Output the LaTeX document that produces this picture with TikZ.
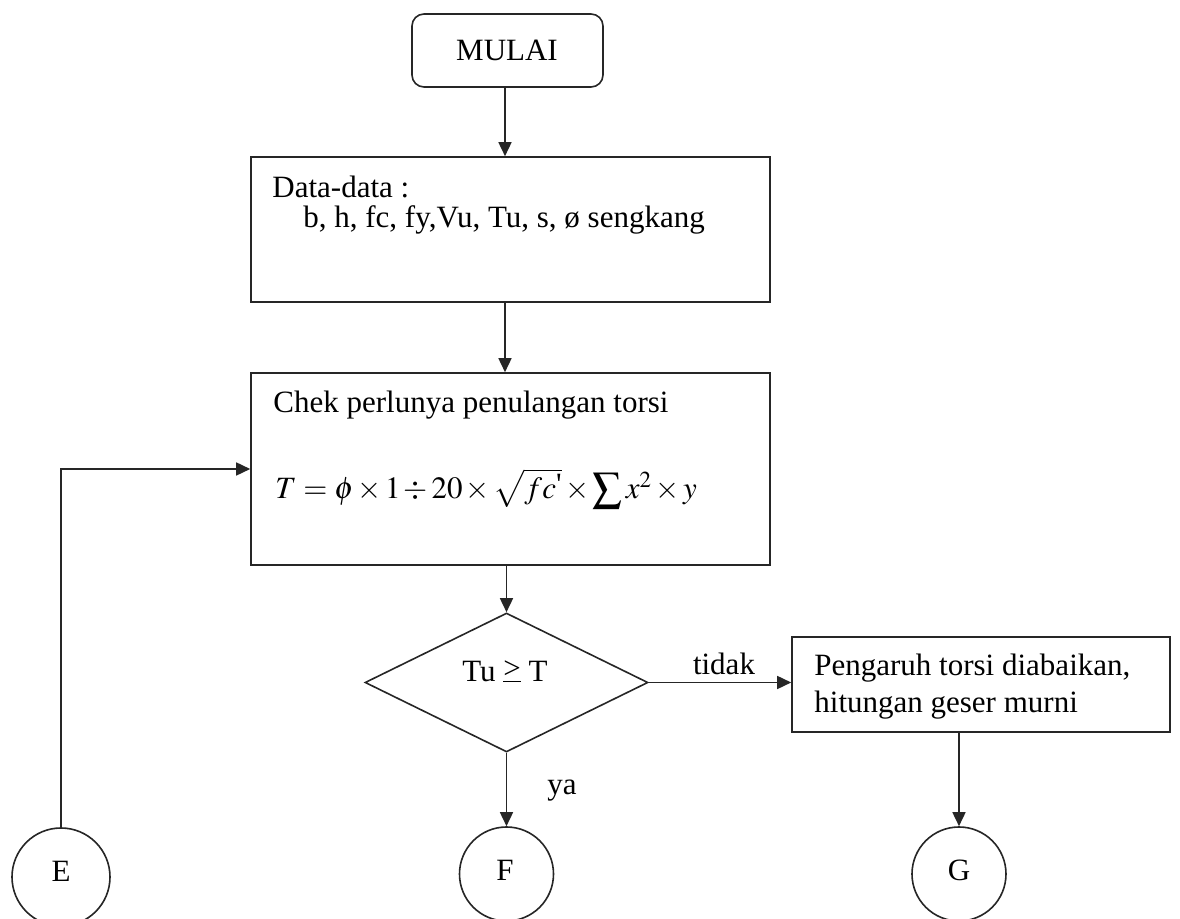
\documentclass[tikz,border=0pt]{standalone}
\usepackage{mathptmx}
\usepackage{fontspec}
\setmainfont{Liberation Serif}
\usetikzlibrary{shapes.geometric,arrows.meta}
\newcommand{\ugeq}{{\setbox0\hbox{>}\rlap{\rule[-0.2pt]{\wd0}{0.55pt}}\raisebox{1.6pt}{>}}}
\newcommand{\bigsumm}{\mathop{\vcenter{\hbox{\scalebox{1.35}{$\sum$}}}}}
\tikzset{
  ln/.style={line width=0.8pt, draw=black!85},
  arr/.style={ln, -{Triangle[length=7pt,width=6.5pt]}},
  boxnode/.style={ln, rectangle, inner sep=0pt},
  txt/.style={inner sep=0pt, font=\fontsize{15.5}{18}\selectfont},
  circnode/.style={ln, circle, inner sep=0pt, minimum size=48pt},
}
\begin{document}
\begin{tikzpicture}[x=0.5pt,y=-0.5pt]
\clip (0,0) rectangle (1180,919);
\useasboundingbox (0,0) rectangle (1180,919);
\fill[white] (0,0) rectangle (1180,919);
% nodes
\node[boxnode, rounded corners=6pt, minimum width=95.5pt, minimum height=36.5pt] (mulai) at (507.5,50.5) {};
\node[txt, anchor=center] (mulaiT) at (507,50) {MULAI};
\node[boxnode, minimum width=259.5pt, minimum height=72.5pt] (data) at (510.5,229.5) {};
\node[txt, anchor=base west] (dataT1) at (272,198) {Data-data :};
\node[txt, anchor=base west] (dataT2) at (303,228) {b, h, fc, fy,Vu, Tu, s, ø sengkang};
\node[boxnode, minimum width=259.5pt, minimum height=96pt] (check) at (510.5,469) {};
\node[txt, anchor=base west] (checkT1) at (273,413) {Chek perlunya penulangan torsi};
\node[txt, anchor=base west] (checkT2) at (275,499) {\thickmuskip=4mu\medmuskip=2mu$T=\phi\times 1\div 20\times\sqrt{fc\raisebox{2pt}{\textquotesingle}}\times\bigsumm x^{2}\times y$};
\node[ln, diamond, inner sep=0pt, minimum width=141.5pt, minimum height=69.5pt] (dia) at (506.5,682.5) {};
\node[txt, anchor=base] (diaT) at (505,682) {Tu \ugeq{} T};
\node[boxnode, minimum width=189pt, minimum height=47.5pt] (peng) at (981,684.5) {};
\node[txt, anchor=base west] (pengT1) at (814,676) {Pengaruh torsi diabaikan,};
\node[txt, anchor=base west] (pengT2) at (814,713) {hitungan geser murni};
\node[circnode, minimum size=49pt] (E) at (61,877) {};
\node[txt] (ET) at (61,871) {E};
\node[circnode, minimum size=47pt] (F) at (506.5,874) {};
\node[txt] (FT) at (505,870) {F};
\node[circnode, minimum size=47pt] (G) at (959,874) {};
\node[txt] (GT) at (959,870) {G};
\node[txt, anchor=base] (tidak) at (724,675) {tidak};
\node[txt, anchor=base] (ya) at (562,795) {ya};
% connectors
\draw[arr] (mulai.south -| 505,0) -- (data.north -| 505,0);
\draw[arr] (data.south -| 505,0) -- (check.north -| 505,0);
\draw[arr] (check.south -| dia.north) -- (dia.north);
\draw[arr] (dia.east) -- (dia.east -| peng.west);
\draw[arr] (dia.south) -- (F.north);
\draw[arr] (G.north |- peng.south) -- (G.north);
\draw[arr] (E.north) |- (check.west);
\end{tikzpicture}
\end{document}
